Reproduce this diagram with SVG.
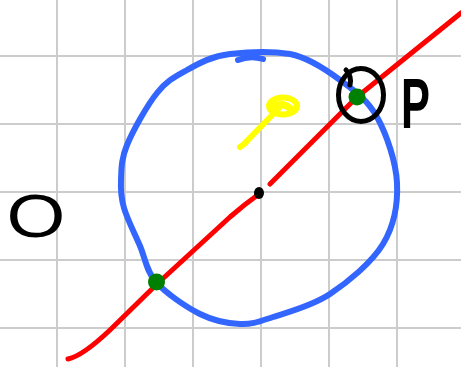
<svg xmlns="http://www.w3.org/2000/svg" width="461" height="367" viewBox="0 0 461 367">
<style>
.grid{stroke:#cccccc;stroke-width:2;fill:none}
.pen{fill:none;stroke-linecap:round;stroke-linejoin:round}
.blue{stroke:#3366ff;stroke-width:6}
.red{stroke:#ff0000;stroke-width:5}
.yel{stroke:#ffff00;stroke-width:6}
.blk{stroke:#000000;stroke-width:5}
.lbl{font-family:"Liberation Sans",Arial,sans-serif;fill:#000000}
</style>
<rect width="461" height="367" fill="#ffffff"/>
<g id="grid" class="grid">
<path d="M57,0V367M125,0V367M193,0V367M261,0V367M329,0V367M397,0V367"/>
<path d="M0,56H461M0,124H461M0,192H461M0,260H461M0,328H461"/>
</g>
<g id="circle" class="pen blue">
<path d="M230,54 C247,52 272,51 290,54 C308.3,57.5 325.5,69.2 340,80 C354.5,90.8 367.5,99.8 377,117 C386.5,134.2 396,161.8 397,183 C398,204.2 394.2,225.5 383,244 C371.8,262.5 348.3,281.8 330,294 C311.7,306.2 288,312 273,317 C258,322 252.2,324.5 240,324 C227.8,323.5 214,321 200,314 C186,307 166,293.3 156,282 C146,270.7 145.3,258.3 140,246 C134.7,233.7 127.2,219 124,208 C120.8,197 120.5,190.5 121,180 C121.5,169.5 121,159.5 127,145 C133,130.5 147,105.5 157,93 C167,80.5 174.8,76.8 187,70 C199.2,63.2 212,56 230,54 Z"/>
<path d="M238,60 Q250,55 263,59"/>
</g>
<g id="connectors">
<g id="line" class="pen red">
<path d="M68,359 C78,357 92,347 110,330 L157,284 L230,217 Q245,204 259,194"/>
<path d="M270,184 L357,97 L461,13"/>
</g>
<g id="arrow" class="pen yel">
<path d="M240,147 Q246,143 247,141 M243,145 L279,108"/>
<ellipse cx="283" cy="106" rx="14" ry="8.5"/>
<path d="M274,106 Q283,102 291,109" stroke-width="7"/>
</g>
</g>
<g id="center">
<ellipse cx="259" cy="193" rx="5" ry="6" fill="#000000"/>
</g>
<g id="point-a">
<circle cx="156.5" cy="282" r="8.5" fill="#008000"/>
</g>
<g id="point-p">
<ellipse cx="361" cy="95" rx="22.5" ry="26.5" class="pen blk"/>
<path d="M346,70 Q352,76 350,85" class="pen blk"/>
<circle cx="357" cy="97" r="8.5" fill="#008000"/>
</g>
<g id="label-p">
<text class="lbl" font-size="70" font-weight="bold" transform="translate(401,128) scale(0.62,1)">P</text>
</g>
<g id="label-o">
<text class="lbl" font-size="62" text-anchor="middle" transform="translate(36,237) scale(1.22,1)">O</text>
</g>
</svg>
